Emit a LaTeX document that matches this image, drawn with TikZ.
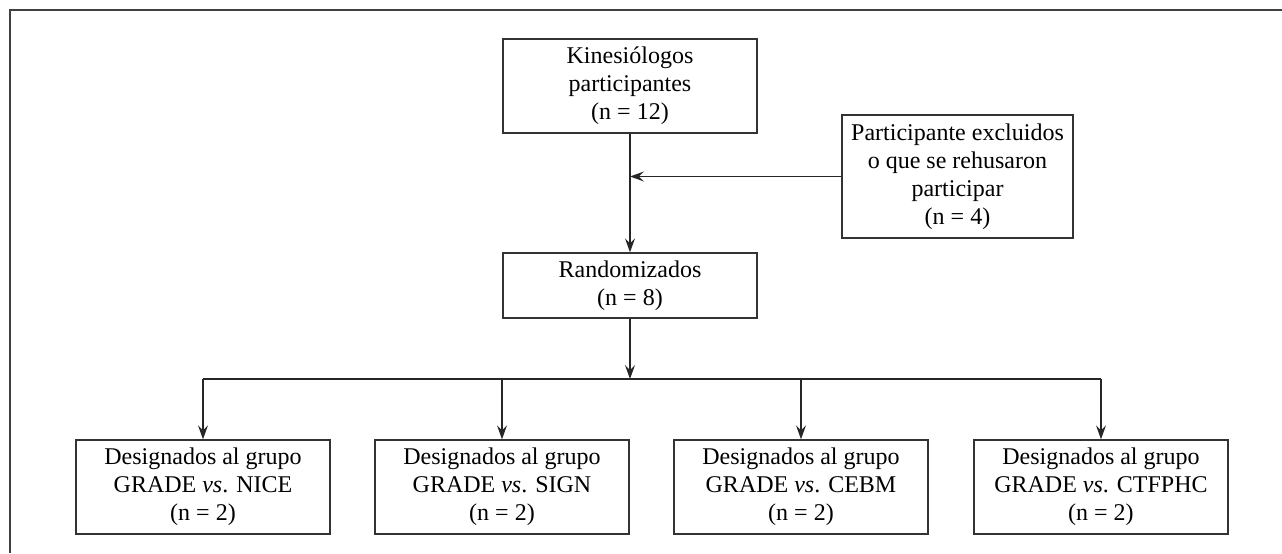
\documentclass[tikz,border=0pt]{standalone}
\usepackage{fontspec}
\setmainfont{Liberation Serif}
\usetikzlibrary{arrows.meta,positioning}

\tikzset{
  caja/.style={draw=black!80, line width=0.7pt, align=center, inner sep=0pt,
    minimum width=127pt, minimum height=47pt,
    font=\fontsize{12}{14}\selectfont},
  flecha/.style={draw=black!85, line width=0.65pt,
    -{Stealth[length=7pt,width=5pt,inset=2.6pt]}}
}

\begin{document}
\begin{tikzpicture}[on grid, auto]
   \useasboundingbox (0pt,0pt) rectangle (641pt,-276.5pt);
   % marco
   \draw[black!75, line width=1pt] (641pt,-5pt) -- (5pt,-5pt) -- (5pt,-276.5pt);

   \node[caja] (kin) at (315pt,-43pt) {Kinesiólogos\\participantes\\(n = 12)};
   \node[caja, minimum width=115.5pt, minimum height=61.5pt] (excl)
        [below right=45.25pt and 163.75pt of kin]
        {Participante excluidos\\o que se rehusaron\\participar\\(n = 4)};
   \node[caja, minimum height=32.5pt] (rand) [below=99.75pt of kin]
        {Randomizados\\(n = 8)};
   \coordinate (split) at (315pt,-189.5pt);

   \node[caja] (g1) at (101.5pt,-243.5pt)
        {Designados al grupo\\GRADE \textit{vs}. NICE\\(n = 2)};
   \node[caja] (g2) [right=149.5pt of g1]
        {Designados al grupo\\GRADE \textit{vs}. SIGN\\(n = 2)};
   \node[caja] (g3) [right=149.5pt of g2]
        {Designados al grupo\\GRADE \textit{vs}. CEBM\\(n = 2)};
   \node[caja] (g4) [right=150pt of g3]
        {Designados al grupo\\GRADE \textit{vs}. CTFPHC\\(n = 2)};

   \path[flecha] (kin) -- (rand);
   \path[flecha] (excl.west) -- (excl.west -| kin);
   \path[flecha] (rand) -- (split);
   \draw[black!85, line width=0.65pt] (g1 |- split) -- (g4 |- split);
   \foreach \g in {g1,g2,g3,g4}
      \path[flecha] (\g |- split) -- (\g);
\end{tikzpicture}
\end{document}
